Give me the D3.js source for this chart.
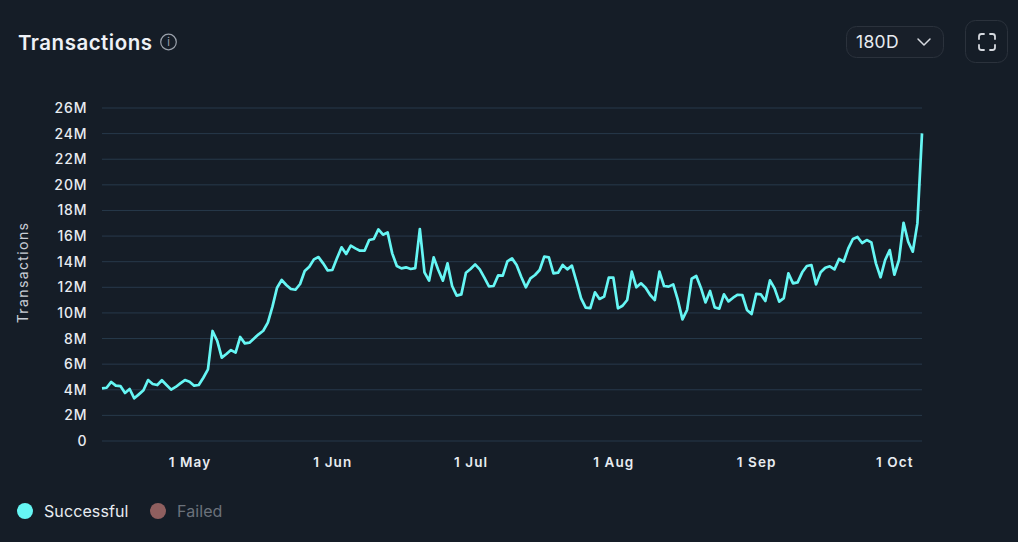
<!DOCTYPE html>
<html><head><meta charset="utf-8">
<script src="https://cdnjs.cloudflare.com/ajax/libs/d3/7.8.5/d3.min.js"></script>
<style>
html,body{margin:0;padding:0;background:#151d27;overflow:hidden}
svg{display:block;font-family:Inter,"Noto Sans",sans-serif}
.domain{display:none}
</style></head><body><svg id="c" width="1018" height="542"></svg>
<script>
const startDate = "2024-04-12";
const yTickValues = [0,2,4,6,8,10,12,14,16,18,20,22,24,26];
const xTickDates = ["2024-05-01","2024-06-01","2024-07-01","2024-08-01","2024-09-01","2024-10-01"];
const xTickLabels = ["1 May","1 Jun","1 Jul","1 Aug","1 Sep","1 Oct"];
const seriesNames = ["Successful","Failed"];
const seriesColors = ["#66f6f4","#8f5f5f"];
const successful = [4.11,4.16,4.61,4.32,4.29,3.75,4.06,3.33,3.64,3.96,4.76,4.45,4.37,4.74,4.37,4.01,4.22,4.50,4.76,4.63,
4.32,4.37,4.94,5.59,8.59,7.83,6.51,6.79,7.10,6.90,8.12,7.62,7.68,8.01,8.33,8.61,9.24,10.49,11.97,12.57,
12.18,11.87,11.81,12.26,13.27,13.61,14.18,14.36,13.87,13.32,13.35,14.26,15.12,14.60,15.25,15.04,14.86,14.86,15.69,15.77,
16.52,16.11,16.29,14.65,13.66,13.48,13.56,13.43,13.50,16.55,13.17,12.52,14.34,13.35,12.52,13.87,12.10,11.35,11.45,13.14,
13.43,13.79,13.40,12.75,12.07,12.10,12.93,12.91,14.03,14.26,13.74,12.83,12.00,12.70,12.96,13.35,14.39,14.34,13.09,13.14,
13.74,13.40,13.69,12.44,11.14,10.41,10.38,11.61,11.09,11.27,12.75,12.75,10.36,10.56,11.01,13.22,12.00,12.31,11.97,11.40,
11.01,13.22,12.10,12.05,12.23,11.01,9.50,10.23,12.67,12.88,11.97,10.82,11.71,10.43,10.33,11.45,10.90,11.19,11.42,11.40,
10.23,9.91,11.48,11.45,10.93,12.54,11.92,10.88,11.16,13.09,12.31,12.39,13.17,13.66,13.74,12.23,13.17,13.53,13.64,13.40,
14.21,14.00,15.04,15.77,15.93,15.46,15.69,15.51,13.87,12.78,14.13,14.91,12.98,14.13,17.04,15.56,14.78,16.99,24.02];

const parse = d3.utcParse("%Y-%m-%d");
const dates = successful.map((_, i) => d3.utcDay.offset(parse(startDate), i));
const svg = d3.select("#c");
const x = d3.scaleUtc().domain([dates[0], dates[dates.length-1]]).range([102,922]);
const y = d3.scaleLinear().domain([0,26]).range([441,108]);

// grid
svg.append("g").selectAll("line").data(yTickValues).join("line")
  .attr("x1",102).attr("x2",922).attr("y1",d=>y(d)).attr("y2",d=>y(d))
  .attr("stroke","#27394b").attr("stroke-width",1);

// y axis
const yAxis = svg.append("g").attr("transform","translate(87.5,0)")
  .call(d3.axisLeft(y).tickValues(yTickValues).tickSize(0).tickPadding(0).tickFormat(d=>d===0?"0":d+"M"));
yAxis.selectAll("text").attr("fill","#e8ecf1").attr("font-size",14).attr("font-weight",500)
  .attr("font-family","Inter").attr("letter-spacing",0.9);

// x axis
const xAxis = svg.append("g").attr("transform","translate(0,441)")
  .call(d3.axisBottom(x).tickValues(xTickDates.map(parse)).tickSize(0).tickPadding(16)
    .tickFormat((d,i)=>xTickLabels[i]));
xAxis.selectAll("text").attr("fill","#e8ecf1").attr("font-size",13.5).attr("font-weight",600)
  .attr("font-family","Inter").attr("letter-spacing",1.1);

// line
svg.append("path").datum(successful)
  .attr("fill","none").attr("stroke",seriesColors[0]).attr("stroke-width",2.7).attr("stroke-linejoin","round")
  .attr("d",d3.line().x((d,i)=>x(dates[i])).y(d=>y(d)));

// y title
svg.append("text").attr("transform","translate(28,272.5) rotate(-90)").attr("text-anchor","middle")
  .attr("fill","#c9ced6").attr("font-size",14).attr("letter-spacing",1.4).text("Transactions");

// title
svg.append("text").attr("x",18).attr("y",49.5).attr("fill","#eef1f6").attr("font-size",20.5).attr("font-weight",600).attr("letter-spacing",0.5).text("Transactions");
const info = svg.append("g").attr("transform","translate(168.5,42)");
info.append("circle").attr("r",7.8).attr("fill","none").attr("stroke","#9aa1ab").attr("stroke-width",1.2);
info.append("text").attr("text-anchor","middle").attr("y",4).attr("font-size",11).attr("fill","#9aa1ab").text("i");

// range button
svg.append("rect").attr("x",846.5).attr("y",26.5).attr("width",97).attr("height",31).attr("rx",10)
  .attr("fill","#181f29").attr("stroke","#2b323c");
svg.append("text").attr("x",856).attr("y",48).attr("fill","#e8ecf1").attr("font-size",17.5).attr("letter-spacing",0.3).text("180D");
svg.append("path").attr("d","M918 39l6 6 6-6").attr("fill","none").attr("stroke","#d5d9df").attr("stroke-width",1.5).attr("stroke-linecap","round").attr("stroke-linejoin","round");

// fullscreen button
svg.append("rect").attr("x",965.5).attr("y",20.5).attr("width",42).attr("height",42).attr("rx",10)
  .attr("fill","none").attr("stroke","#2b323c");
svg.append("path").attr("d","M979 39v-2.5a2.5 2.5 0 0 1 2.5-2.5H984M990 34h2.5a2.5 2.5 0 0 1 2.5 2.5V39M995 45v2.5a2.5 2.5 0 0 1-2.5 2.5H990M984 50h-2.5a2.5 2.5 0 0 1-2.5-2.5V45")
  .attr("fill","none").attr("stroke","#d5d9df").attr("stroke-width",1.8).attr("stroke-linecap","round");

// legend
const legendX = [25,158], legendText=["#e8ecf1","#6b727b"];
seriesNames.forEach((n,i)=>{
  svg.append("circle").attr("cx",legendX[i]).attr("cy",511).attr("r",8).attr("fill",seriesColors[i]);
  svg.append("text").attr("x",legendX[i]+19).attr("y",516.5).attr("fill",legendText[i]).attr("font-size",16).attr("letter-spacing",0.1).text(n);
});
</script></body></html>
